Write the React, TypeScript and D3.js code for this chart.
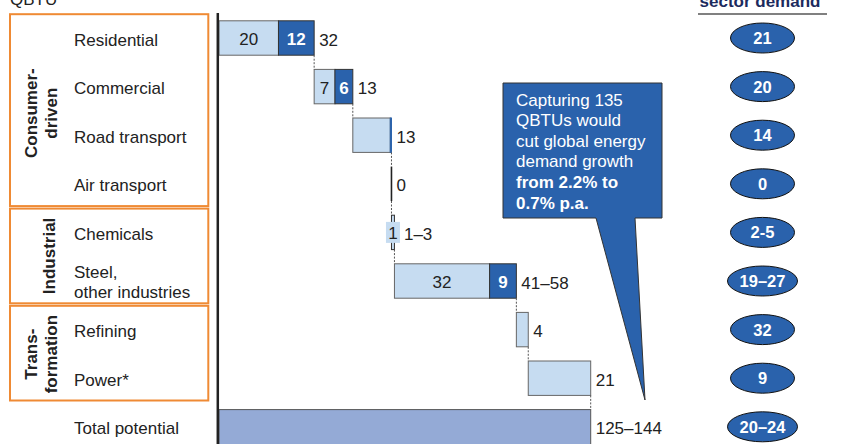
import React from "react";
import * as d3 from "d3";

const categories = [
  "Residential",
  "Commercial",
  "Road transport",
  "Air transport",
  "Chemicals",
  "Steel,|other industries",
  "Refining",
  "Power*",
  "Total potential",
];
const lightValues = [20, 7, 12.6, 0, 1, 32, 4, 21];
const darkValues = [12, 6, 0.4, 0, 0, 9, 0, 0];
const totalValue = 125;
const lightLabels = ["20", "7", "", "", "1", "32", "", ""];
const darkLabels = ["12", "6", "", "", "", "9", "", ""];
const valueLabels = ["32", "13", "13", "0", "1–3", "41–58", "4", "21", "125–144"];
const sectorDemand = ["21", "20", "14", "0", "2-5", "19–27", "32", "9", "20–24"];
const groupNames = [["Consumer-", "driven"], ["Industrial"], ["Trans-", "formation"]];
const groupStart = [0, 4, 6];
const groupEnd = [3, 5, 7];
const calloutLines = [
  "Capturing 135",
  "QBTUs would",
  "cut global energy",
  "demand growth",
  "from 2.2% to",
  "0.7% p.a.",
];
const calloutBold = [false, false, false, false, true, true];

const W = 852;
const H = 444;
const FONT = "'Liberation Sans', Arial, sans-serif";
const LIGHT = "#C6DCF1";
const DARK = "#2A62AC";
const TOTAL = "#94AAD6";
const ORANGE = "#EF8A34";
const TXT = "#222";

export default function App() {
  const x = d3.scaleLinear().domain([0, totalValue]).range([219, 590.7]);
  const y = d3.scaleBand<string>().domain(categories).range([13.7, 13.7 + 9 * 48.6]).paddingInner(0);
  const bw = y.bandwidth();
  const barH = 34.4;
  const cy = (i: number) => (y(categories[i]) as number) + bw / 2;

  let cum = 0;
  const rows = lightValues.map((lv, i) => {
    const start = cum;
    const mid = start + lv;
    const end = mid + darkValues[i];
    cum = end;
    return { start, mid, end };
  });

  const elems: React.ReactNode[] = [];

  rows.forEach((r, i) => {
    const c = cy(i);
    const top = c - barH / 2;
    const x0 = x(r.start);
    const x1 = x(r.mid);
    const x2 = x(r.end);
    if (r.end - r.start === 0) {
      elems.push(<line key={`z${i}`} x1={x0} x2={x0} y1={top} y2={top + barH} stroke={TXT} strokeWidth={1.6} />);
    } else {
      if (lightValues[i] > 0)
        elems.push(<rect key={`l${i}`} x={x0} y={top} width={x1 - x0} height={barH} fill={LIGHT} stroke={i === 4 ? "#333" : "#666"} strokeWidth={1} />);
      if (darkValues[i] > 0)
        elems.push(<rect key={`d${i}`} x={x1} y={top} width={x2 - x1} height={barH} fill={DARK} stroke={darkValues[i] < 1 ? DARK : "#333"} strokeWidth={1} />);
    }
    let labelX = x2 + 5;
    if (lightLabels[i]) {
      const mx = (x0 + x1) / 2;
      if (x1 - x0 < 16) {
        elems.push(<rect key={`lb${i}`} x={mx - 7} y={c - 10.5} width={14} height={21} fill={LIGHT} />);
        labelX = mx + 11;
      }
      elems.push(
        <text key={`lt${i}`} x={mx} y={c + 7} textAnchor="middle" fontSize={17} fill={TXT}>{lightLabels[i]}</text>
      );
    }
    if (darkLabels[i]) {
      elems.push(
        <text key={`dt${i}`} x={(x1 + x2) / 2} y={c + 7} textAnchor="middle" fontSize={17} fontWeight="bold" fill="#fff">{darkLabels[i]}</text>
      );
    }
    elems.push(
      <text key={`v${i}`} x={labelX} y={c + 7.5} fontSize={17} fill={TXT}>{valueLabels[i]}</text>
    );
    const nextTop = cy(i + 1) - barH / 2;
    elems.push(
      <line key={`c${i}`} x1={x2} x2={x2} y1={top + barH} y2={nextTop} stroke="#555" strokeWidth={1} strokeDasharray="2,1.5" />
    );
  });

  const ti = categories.length - 1;
  const tc = cy(ti);
  elems.push(<rect key="tot" x={x(0)} y={tc - barH / 2} width={x(totalValue) - x(0)} height={barH + 10} fill={TOTAL} stroke="#555" strokeWidth={1} />);
  elems.push(<text key="totl" x={x(totalValue) + 5} y={tc + 7.5} fontSize={17} fill={TXT}>{valueLabels[ti]}</text>);

  const groupShift = [3, 0, 1];

  return (
    <svg width={W} height={H} style={{ position: "absolute", left: 0, top: 0, fontFamily: FONT }}>
      <rect width={W} height={H} fill="#fff" />
      <text x={10} y={5} fontSize={17} fill={TXT}>QBTU</text>

      {groupNames.map((g, gi) => {
        const top = (y(categories[groupStart[gi]]) as number) + 0.5;
        const bottom = (y(categories[groupEnd[gi]]) as number) + bw - 2;
        const mid = (top + bottom) / 2;
        return (
          <g key={`g${gi}`}>
            <rect x={10} y={top} width={198.3} height={bottom - top} fill="none" stroke={ORANGE} strokeWidth={2} />
            {g.map((line, li) => {
              const bx = g.length === 1 ? 55 : 37 + li * 20;
              return (
                <text key={li} transform={`translate(${bx},${mid + groupShift[gi]}) rotate(-90)`} textAnchor="middle" fontSize={17} fontWeight="bold" fill={TXT}>
                  {line}
                </text>
              );
            })}
          </g>
        );
      })}

      {categories.map((cat, i) => {
        const c = cy(i);
        const parts = cat.split("|");
        if (parts.length === 1)
          return <text key={`cat${i}`} x={74} y={c + 7.5} fontSize={17} fill={TXT}>{cat}</text>;
        return (
          <text key={`cat${i}`} x={74} y={c - 3.5} fontSize={17} fill={TXT}>
            {parts.map((p, k) => (
              <tspan key={k} x={74} dy={k === 0 ? 0 : 20.5}>{p}</tspan>
            ))}
          </text>
        );
      })}

      {elems}

      <line x1={217.8} x2={217.8} y1={13} y2={H} stroke={TXT} strokeWidth={2.5} />

      <path d="M503,83 H662 V218 H635 L645,400 L596,218 H503 Z" fill={DARK} stroke="#333" strokeWidth={1} />
      {calloutLines.map((l, i) => (
        <text key={`co${i}`} x={516} y={105.5 + i * 20.6} fontSize={17} fill="#fff" fontWeight={calloutBold[i] ? "bold" : "normal"}>{l}</text>
      ))}

      <text x={760} y={7} textAnchor="middle" fontSize={17} fontWeight="bold" fill="#1C2B5E">sector demand</text>
      <line x1={698} x2={827} y1={14} y2={14} stroke="#808080" strokeWidth={2} />
      {sectorDemand.map((s, i) => {
        const c = cy(i);
        const rx = s.length >= 5 ? 35 : 32;
        return (
          <g key={`sd${i}`}>
            <ellipse cx={762.5} cy={c} rx={rx} ry={15} fill={DARK} stroke="#111" strokeWidth={1} />
            <text x={762.5} y={c + 6} textAnchor="middle" fontSize={16.5} fontWeight="bold" fill="#fff">{s}</text>
          </g>
        );
      })}
    </svg>
  );
}
